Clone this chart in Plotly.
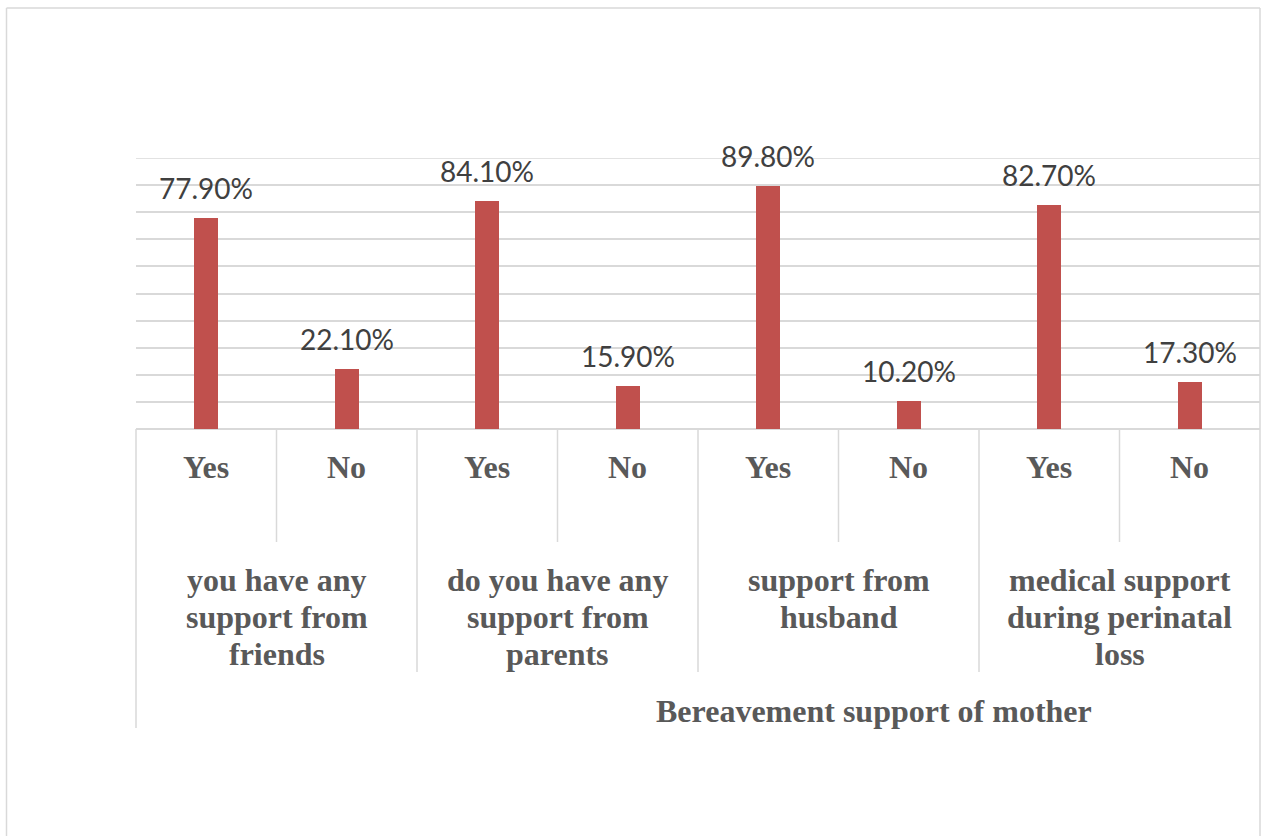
import plotly.graph_objects as go

# ---- data ----
answers = ["Yes", "No", "Yes", "No", "Yes", "No", "Yes", "No"]
groups = [
    ["you have any", "support from", "friends"],
    ["do you have any", "support from", "parents"],
    ["support from", "husband"],
    ["medical support", "during perinatal", "loss"],
]
values = [0.779, 0.221, 0.841, 0.159, 0.898, 0.102, 0.827, 0.173]
axis_title = "Bereavement support of mother"
y_max = 1.0

# ---- layout geometry (pixels) ----
W, H = 1267, 836
PL, PR, PT, PB = 136, 1260, 158, 429  # plot area edges
n = len(answers)
pos = list(range(n))

def px_x(p):
    return (p - PL) / (PR - PL)

def px_y(p):
    return (PB - p) / (PB - PT)

BAR = "#C0504D"
GRID = "#D9D9D9"
LABEL = "#595959"
DLABEL = "#404040"

fig = go.Figure()
fig.add_trace(go.Bar(
    x=pos, y=values, width=0.17, marker=dict(color=BAR, line=dict(width=0)),
    hoverinfo="skip", showlegend=False,
))

annotations = []
# data labels
for xi, v in zip(pos, values):
    annotations.append(dict(
        x=xi, y=v, xref="x", yref="y", text=f"{v*100:.2f}%", showarrow=False,
        yanchor="middle", yshift=30,
        font=dict(family="Lato", size=28, color=DLABEL),
    ))
# inner category labels
for xi, a in zip(pos, answers):
    annotations.append(dict(
        x=xi, y=0, xref="x", yref="paper", text=f"<b>{a}</b>", showarrow=False,
        yanchor="middle", yshift=-(467 - PB),
        font=dict(family="Liberation Serif", size=32, color=LABEL),
    ))
# group labels, one line each
for gi, lines in enumerate(groups):
    cx = 2 * gi + 0.5
    for li, line in enumerate(lines):
        annotations.append(dict(
            x=cx, y=0, xref="x", yref="paper", text=f"<b>{line}</b>", showarrow=False,
            yanchor="middle", yshift=-(580 + 37 * li - PB),
            font=dict(family="Liberation Serif", size=32, color=LABEL),
        ))
# outer axis title
annotations.append(dict(
    x=px_x(874), y=0, xref="paper", yref="paper", text=f"<b>{axis_title}</b>",
    showarrow=False, yanchor="middle", yshift=-(711 - PB),
    font=dict(family="Liberation Serif", size=32, color=LABEL),
))

shapes = []
line_style = dict(color=GRID, width=1.5)
# top gridline (at axis maximum)
shapes.append(dict(type="line", xref="paper", yref="y",
                   x0=0, x1=1, y0=y_max, y1=y_max, line=line_style))
# inner separators (between Yes/No)
for gi in range(len(groups)):
    xb = (2 * gi + 1) / n
    shapes.append(dict(type="line", xref="paper", yref="paper",
                       x0=xb, x1=xb, y0=0, y1=px_y(542), line=line_style))
# group separators
for gi in range(1, len(groups)):
    xb = (2 * gi) / n
    shapes.append(dict(type="line", xref="paper", yref="paper",
                       x0=xb, x1=xb, y0=0, y1=px_y(672), line=line_style))
# left edge
shapes.append(dict(type="line", xref="paper", yref="paper",
                   x0=0, x1=0, y0=0, y1=px_y(728), line=line_style))
# chart border: left, top, right edges (bottom lies outside the view)
bx0, bx1, by_top, by_bot = px_x(6.5), px_x(1260), px_y(8), px_y(900)
for (x0, y0, x1, y1) in [(bx0, by_bot, bx0, by_top), (bx0, by_top, bx1, by_top),
                         (bx1, by_top, bx1, by_bot)]:
    shapes.append(dict(type="line", xref="paper", yref="paper",
                       x0=x0, y0=y0, x1=x1, y1=y1, line=line_style, layer="below"))

fig.update_layout(
    width=W, height=H,
    margin=dict(l=PL, r=W - PR, t=PT, b=H - PB, pad=0),
    paper_bgcolor="white", plot_bgcolor="white",
    bargap=0,
    xaxis=dict(range=[-0.5, n - 0.5], showticklabels=False, showgrid=False,
               zeroline=False, showline=False, ticks=""),
    yaxis=dict(range=[0, y_max], dtick=0.1, tick0=0, showticklabels=False,
               showgrid=True, gridcolor=GRID, gridwidth=1.5,
               zeroline=True, zerolinecolor=GRID, zerolinewidth=1.5,
               showline=False, ticks=""),
    annotations=annotations,
    shapes=shapes,
)

fig.write_html("out.html")
